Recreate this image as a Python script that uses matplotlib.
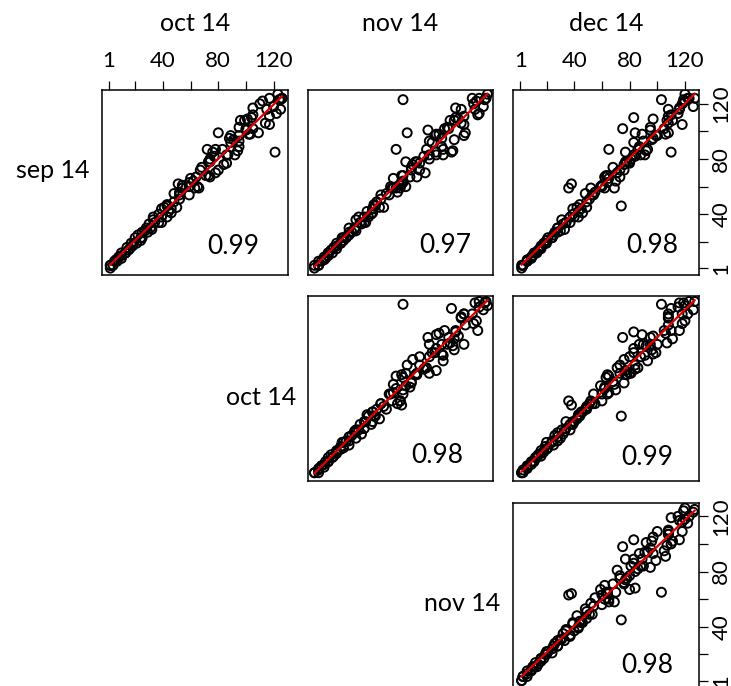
import numpy as np
import matplotlib
matplotlib.use("Agg")
import matplotlib.pyplot as plt

plt.rcParams['font.family'] = ['Lato', 'DejaVu Sans']

# Monthly ranks for the same set of items
months = ["sep 14", "oct 14", "nov 14", "dec 14"]

sep14 = [1, 3, 3, 3, 6, 6, 7, 9, 8, 10,
         12, 12, 12, 14, 16, 15, 17, 19, 19, 19,
         23, 21, 23, 25, 23, 27, 27, 30, 28, 30,
         29, 33, 36, 34, 34, 38, 34, 38, 40, 38,
         44, 42, 41, 45, 44, 46, 47, 45, 51, 49,
         55, 62, 54, 59, 59, 56, 60, 54, 61, 59,
         66, 60, 63, 59, 68, 67, 64, 74, 68, 72,
         67, 87, 78, 72, 78, 70, 78, 82, 76, 80,
         87, 77, 85, 83, 99, 83, 87, 92, 83, 93,
         89, 97, 86, 95, 98, 101, 103, 98, 94, 102,
         108, 97, 102, 109, 99, 108, 110, 106, 117, 85,
         112, 105, 116, 120, 113, 111, 122, 123, 116, 124,
         123, 118, 124, 127, 124]

oct14 = [2, 2, 2, 4, 5, 7, 6, 8, 10, 10,
         10, 13, 13, 15, 14, 16, 18, 17, 19, 21,
         20, 24, 24, 22, 25, 25, 29, 28, 27, 31,
         32, 30, 33, 37, 34, 33, 39, 39, 37, 43,
         39, 44, 46, 41, 46, 43, 43, 50, 52, 48,
         48, 51, 52, 54, 54, 52, 59, 59, 54, 63,
         60, 65, 59, 66, 71, 64, 62, 68, 73, 67,
         74, 72, 74, 80, 73, 78, 73, 77, 84, 74,
         78, 86, 76, 86, 80, 92, 83, 89, 87, 95,
         95, 89, 94, 88, 102, 100, 95, 103, 91, 100,
         96, 95, 105, 101, 109, 99, 104, 114, 105, 121,
         105, 117, 115, 110, 122, 117, 112, 124, 125, 117,
         125, 120, 126, 123, 126]

nov14 = [1, 1, 4, 4, 4, 6, 8, 8, 9, 11,
         11, 11, 14, 13, 15, 17, 17, 17, 20, 20,
         22, 22, 21, 26, 24, 26, 28, 26, 31, 30,
         30, 35, 31, 34, 37, 33, 38, 37, 42, 40,
         43, 39, 43, 48, 43, 45, 44, 51, 49, 46,
         53, 64, 49, 57, 63, 61, 56, 55, 63, 60,
         58, 67, 65, 58, 65, 70, 65, 71, 64, 71,
         75, 60, 67, 77, 75, 81, 74, 80, 72, 84,
         82, 77, 89, 84, 68, 89, 94, 86, 94, 84,
         93, 88, 101, 93, 89, 83, 97, 91, 102, 98,
         99, 109, 95, 105, 110, 102, 103, 107, 103, 100,
         119, 109, 107, 116, 120, 109, 118, 65, 117, 115,
         124, 123, 120, 126, 125]

dec14 = [2, 2, 3, 3, 6, 6, 6, 9, 9, 10,
         11, 13, 12, 14, 16, 16, 16, 18, 20, 19,
         21, 20, 24, 25, 24, 28, 26, 28, 30, 28,
         33, 32, 31, 37, 34, 37, 34, 40, 39, 43,
         39, 43, 46, 42, 45, 74, 44, 49, 51, 49,
         48, 38, 53, 52, 36, 55, 60, 54, 60, 62,
         65, 59, 64, 69, 63, 62, 70, 68, 64, 76,
         73, 65, 80, 73, 78, 71, 77, 84, 76, 81,
         86, 80, 77, 88, 84, 83, 93, 83, 91, 90,
         87, 99, 92, 97, 89, 95, 95, 106, 96, 75,
         107, 100, 105, 97, 108, 111, 83, 108, 116, 110,
         110, 118, 108, 118, 115, 108, 120, 103, 116, 122,
         119, 126, 123, 120, 127]

series = {"sep 14": sep14, "oct 14": oct14, "nov 14": nov14, "dec 14": dec14}

# Upper-triangle panels: (row variable, column variable) and printed correlation
panels = [("sep 14", "oct 14"), ("sep 14", "nov 14"), ("sep 14", "dec 14"),
          ("oct 14", "nov 14"), ("oct 14", "dec 14"),
          ("nov 14", "dec 14")]
corr_labels = ["0.99", "0.97", "0.98", "0.98", "0.99", "0.98"]

tick_values = [1, 20, 40, 60, 80, 100, 120]
tick_text = ["1", "", "40", "", "80", "", "120"]

W, H = 731, 686
fig = plt.figure(figsize=(W / 100, H / 100), dpi=100)

col_left = [102, 307.5, 513.3]
row_top = [90, 296, 502.5]
pw, ph = 185.5, 185
lim = (-4, 130)

# where the correlation text sits inside each panel (axes fraction)
corr_pos = [(0.705, 0.155), (0.745, 0.16), (0.75, 0.16),
            (0.70, 0.14), (0.72, 0.125), (0.72, 0.12)]

col_of = {"oct 14": 0, "nov 14": 1, "dec 14": 2}
row_of = {"sep 14": 0, "oct 14": 1, "nov 14": 2}

for k, (yname, xname) in enumerate(panels):
    r, c = row_of[yname], col_of[xname]
    ax = fig.add_axes([col_left[c] / W, 1 - (row_top[r] + ph) / H, pw / W, ph / H])
    x = np.array(series[xname], dtype=float)
    y = np.array(series[yname], dtype=float)
    ax.scatter(x, y, s=42, facecolors="none", edgecolors="black", linewidths=1.4, zorder=2)
    b, a = np.polyfit(x, y, 1)
    xs = np.array([x.min(), x.max()])
    ax.plot(xs, a + b * xs, color="#e00000", lw=1.6, zorder=3)
    ax.set_xlim(lim)
    ax.set_ylim(lim)
    for sp in ax.spines.values():
        sp.set_linewidth(1.1)
    ax.tick_params(left=False, bottom=False, labelleft=False, labelbottom=False,
                   top=False, right=False, labeltop=False, labelright=False)
    ax.set_xticks(tick_values)
    ax.set_yticks(tick_values)
    if r == 0 and c in (0, 2):
        ax.tick_params(axis="x", top=True, labeltop=True, direction="out",
                       length=6.5, width=0.9, pad=7, labelsize=16)
        ax.set_xticklabels(tick_text)
    if c == 2 and r in (0, 2):
        ax.tick_params(axis="y", right=True, labelright=True, direction="out",
                       length=6.5, width=0.9, pad=2.5, labelsize=16)
        ax.set_yticklabels(tick_text, rotation=90, va="center")
    ax.text(corr_pos[k][0], corr_pos[k][1], corr_labels[k], transform=ax.transAxes,
            ha="center", va="center", fontsize=19)

# column headings
for c, name in enumerate(["oct 14", "nov 14", "dec 14"]):
    cx = (col_left[c] + pw / 2) / W
    fig.text(cx, 1 - 31 / H, name, ha="center", va="baseline", fontsize=18)

# row names, right-aligned next to their first panel
row_label_pos = [(90, 177.7), (296.7, 405), (500, 610.7)]
for name, (px, py) in zip(["sep 14", "oct 14", "nov 14"], row_label_pos):
    fig.text(px / W, 1 - py / H, name, ha="right", va="baseline", fontsize=18)

fig.savefig("out.png", dpi=100)
